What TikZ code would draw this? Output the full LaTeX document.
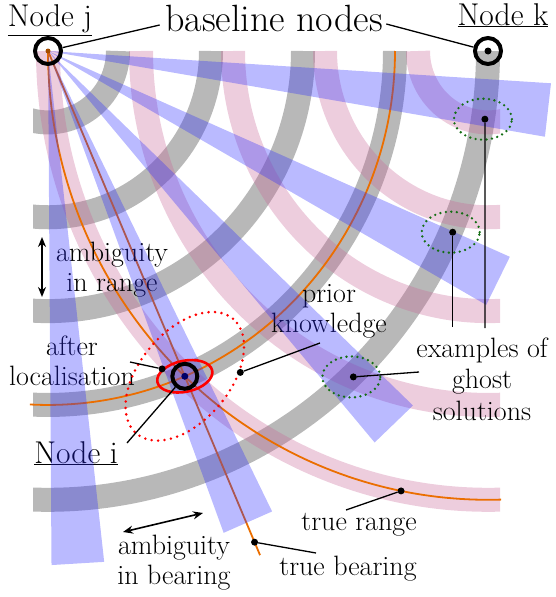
\documentclass[tikz,border=0pt]{standalone}
\usepackage{tikz}
\usetikzlibrary{arrows.meta,shapes.geometric,calc}
\definecolor{bandpink}{RGB}{200,100,150}
\definecolor{bandblue}{RGB}{40,40,255}
\definecolor{truecol}{RGB}{235,110,0}
\definecolor{ghostgreen}{RGB}{20,110,20}
\tikzset{rangeband/.style={draw=black,draw opacity=0.28,line width=24pt}}
\tikzset{pinkband/.style={draw=bandpink,draw opacity=0.32,line width=24pt}}
\tikzset{bearwedge/.style={fill=bandblue,fill opacity=0.32}}
\tikzset{truth/.style={draw=truecol,line width=1.8pt}}
\tikzset{ring/.style={circle,draw,line width=4pt,minimum size=26pt,inner sep=0pt}}
\tikzset{dot/.style={circle,fill,inner sep=0pt,minimum size=7pt}}
\tikzset{callout/.style={draw,line width=1.3pt}}
\tikzset{annot/.style={align=center,font=\fontsize{28}{30}\selectfont}}
\tikzset{nodename/.style={font=\fontsize{31.5}{32}\selectfont}}
\tikzset{ambarrow/.style={line width=1.6pt,
                          arrows={Stealth[length=10pt,width=8pt]-Stealth[length=10pt,width=8pt]}}}
\tikzset{ghostell/.style={ellipse,draw=ghostgreen,line width=2.6pt,line cap=round,
                          dash pattern=on 0pt off 5.5pt,minimum width=58pt,
                          minimum height=41pt,inner sep=0pt}}
\tikzset{priorell/.style={ellipse,draw=red,line width=2.8pt,line cap=round,
                          dash pattern=on 0pt off 6.5pt,minimum width=150pt,
                          minimum height=90pt,inner sep=0pt,rotate=50}}
\tikzset{locell/.style={ellipse,draw=red,line width=2.6pt,minimum width=56pt,
                        minimum height=31pt,inner sep=0pt,rotate=12}}

\begin{document}
\begin{tikzpicture}[x=1pt,y=1pt]
    \useasboundingbox (0,0) rectangle (556,-597);
    % Centres of the baseline nodes, node i and the ghost solutions
    \coordinate (jc) at (48,-51);
    \begin{scope}[shift={(jc)},yscale=1.02]
        \coordinate (kc) at (440,0);
        \coordinate (ic) at (136.8,-318.9);
        \coordinate (g1) at (-8.7:442);
        \coordinate (g2) at (-23.7:442);
        \coordinate (g3) at (-46.3:442);
    \end{scope}
    % Range ambiguity from node j
    \begin{scope}
        \clip (33,0) rectangle (556,-597);
        \begin{scope}[shift={(jc)},yscale=1.02]
            \foreach \r in {70,163,255,347,440}{%
                  \draw[rangeband] (\r,0) arc[start angle=0,end angle=-105,radius=\r];
                }
        \end{scope}
    \end{scope}
    % Range ambiguity from node k
    \begin{scope}
        \clip (0,0) rectangle (500,-597);
        \begin{scope}[shift={(kc)},yscale=1.02]
            \foreach \r in {70,163,255,347,440}{%
                  \draw[pinkband] (-\r,0) arc[start angle=180,end angle=285,radius=\r];
                }
        \end{scope}
    \end{scope}
    % True range and true bearing
    \begin{scope}[shift={(jc)},yscale=1.02]
        \draw[truth] (347,0) arc[start angle=0,end angle=-93,radius=347];
    \end{scope}
    \begin{scope}[shift={(kc)},yscale=1.02]
        \draw[truth] (-440,0) arc[start angle=180,end angle=271.7,radius=440];
        \coordinate (trd) at (-101.4:440);
    \end{scope}
    \coordinate (tbend) at ($(jc)!1.55!(ic)$);
    \coordinate (tbd) at ($(jc)!1.51!(ic)$);
    \draw[truth] (jc) -- (tbend);
    % Labels
    \node[nodename,anchor=base] (nj) at (50,-27) {\underline{Node~j}};
    \node[nodename,anchor=base] (nk) at (503,-25) {\underline{Node~k}};
    \node[font=\fontsize{38}{40}\selectfont,anchor=base] (bl) at (274,-31) {baseline nodes};
    \node[annot] (amr) at (112,-270) {ambiguity\\in range};
    \node[annot] (aloc) at (72,-361) {after\\localisation};
    \node[annot] (pk) at (329,-311) {prior\\knowledge};
    \node[annot,font=\fontsize{28}{31.5}\selectfont] (gs) at (482,-379) {examples of\\ghost\\solutions};
    \node[nodename,anchor=base] (ni) at (76,-463) {\underline{Node~i}};
    \node[annot] (amb) at (174,-563) {ambiguity\\in bearing};
    \node[annot,anchor=base] (tr) at (359,-530) {true range};
    \node[annot,anchor=base] (tb) at (348,-575) {true bearing};
    % Bearing ambiguity from node j
    \begin{scope}[shift={(jc)},yscale=1.02]
        \foreach \a in {-6.6,-26.6,-46.6,-66.6,-86.6}{%
              \fill[bearwedge] (0,0) -- ({\a-3}:504) -- ({\a+3}:504) -- cycle;
            }
    \end{scope}
    % Estimates
    \node[priorell] (prior) at (ic) {};
    \node[locell] (loc) at (ic) {};
    \foreach \g in {1,2,3}{%
          \node[ghostell] (e\g) at ($(g\g)+(-2,0)$) {};
        }
    % Nodes
    \node[ring] (j) at (jc) {};
    \node[ring] (k) at (kc) {};
    \node[ring,minimum size=25pt] (i) at (ic) {};
    \node[dot,fill=truecol!70!black,minimum size=5pt] (jd) at (jc) {};
    \node[dot] (kd) at (kc) {};
    \node[dot,fill=blue!40!black] (id) at (ic) {};
    % Callout dots
    \node[dot] (locd) at (loc.150) {};
    \node[dot] (priord) at (prior.-46) {};
    \foreach \g in {1,2,3}{%
          \node[dot] (gd\g) at (g\g) {};
        }
    \node[dot] (trdot) at (trd) {};
    \node[dot] (tbdot) at (tbd) {};
    % Callout lines
    \coordinate (blw) at ($(bl.base west)+(-2,6)$);
    \coordinate (ble) at ($(bl.base east)+(0,7)$);
    \draw[callout] (blw) -- (j);
    \draw[callout] (ble) -- (k);
    \coordinate (alocc) at (130,-362);
    \draw[callout] (alocc) -- (locd);
    \coordinate (pkc) at (320,-343);
    \draw[callout] (pkc) -- (priord);
    \coordinate (gc1) at (485,-328);
    \coordinate (gc2) at ($(gd2)+(0,-95)$);
    \coordinate (gc3) at (419,-372);
    \draw[callout] (gc1) -- (gd1);
    \draw[callout] (gc2) -- (gd2);
    \draw[callout] (gc3) -- (gd3);
    \coordinate (nic) at (127,-443);
    \draw[callout] (nic) -- (i);
    \coordinate (trc) at (346,-510);
    \draw[callout] (trc) -- (trdot);
    \coordinate (tbc) at (316,-553);
    \draw[callout] (tbc) -- (tbdot);
    % Ambiguity arrows
    \coordinate (rtop) at (42,-237);
    \coordinate (rbot) at (42,-297);
    \draw[ambarrow] (rtop) -- (rbot);
    \coordinate (bleft) at (123,-532);
    \coordinate (bright) at (203,-513);
    \draw[ambarrow] (bleft) -- (bright);
\end{tikzpicture}
\end{document}
